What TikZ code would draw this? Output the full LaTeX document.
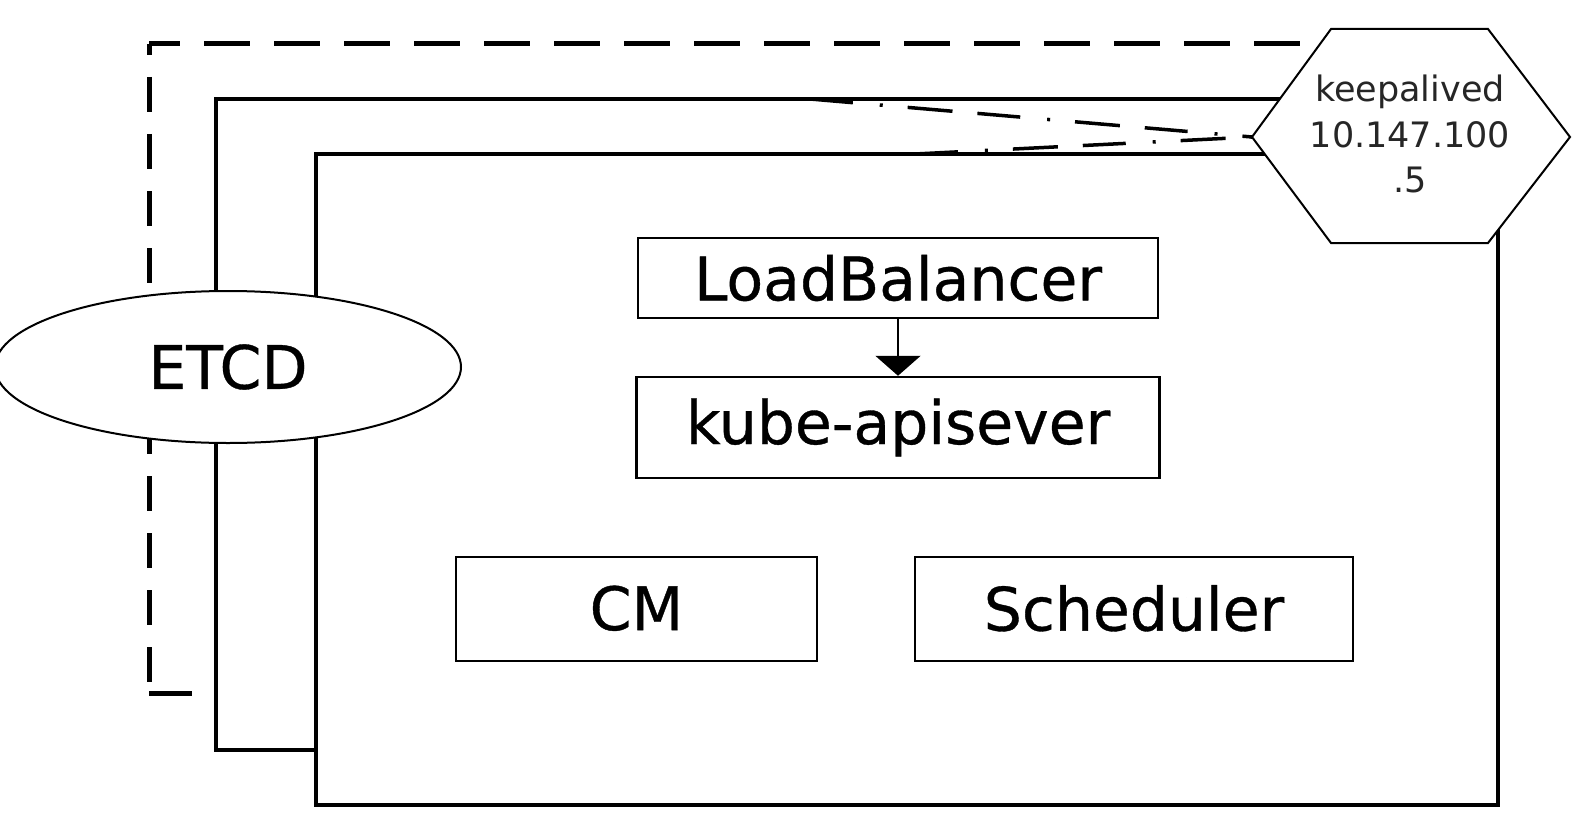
\documentclass[tikz,border=0pt]{standalone}
\usepackage{fontspec}
\setmainfont{DejaVu Sans}
\newfontfamily\boxfont[FakeBold=0.6]{DejaVu Sans}
\usetikzlibrary{shapes.geometric,arrows.meta}
\tikzset{
  frame/.style={line width=4.5pt, line join=miter},
  dashfrm/.style={line width=5pt},
  comp/.style={draw, line width=2.5pt, inner sep=0pt, font=\boxfont\fontsize{60}{72}\selectfont},
  ddot/.style={line width=3.5pt, dash pattern=on 43pt off 27pt on 3pt off 25pt on 45pt off 25pt},
  thinshape/.style={draw, fill=white, line width=2pt},
}
\begin{document}
\begin{tikzpicture}[x=1pt,y=-1pt]
\useasboundingbox (0,0) rectangle (1590,832);
% dashed outer frame
\draw[dashfrm, dash pattern=on 35pt off 22pt, dash phase=24pt] (149,44) -- (149,693);
\draw[dashfrm, dash pattern=on 46pt off 24pt, dash phase=15pt] (149,44) -- (1340,44);
\draw[dashfrm] (149,693) -- (192,693);
% middle frame
\draw[frame] (316,750) -- (216,750) -- (216,99) -- (1300,99);
% inner frame
\draw[frame] (316,154) rectangle (1498,805);
% coordinates
\coordinate (m1) at (810,99);
\coordinate (i1) at (915,154);
\coordinate (hL) at (1252,137);
\coordinate (hTL) at (1331,29);
\coordinate (hTR) at (1488,29);
\coordinate (hR) at (1570,137);
\coordinate (hBR) at (1488,243);
\coordinate (hBL) at (1331,243);
% dash-dot connectors
\draw[ddot] (m1) -- (hL);
\draw[ddot] (i1) -- (hL);
% hexagon
\filldraw[thinshape] (hL) -- (hTL) -- (hTR) -- (hR) -- (hBR) -- (hBL) -- cycle;
\node[align=center, text=black!85, font=\fontsize{35}{45.5}\selectfont, inner sep=0pt] (keep) at (1410,134) {keepalived\\10.147.100\\.5};
% ETCD
\node[ellipse, thinshape, minimum width=466pt, minimum height=152pt, inner sep=0pt, font=\boxfont\fontsize{60}{72}\selectfont] (etcd) at (228,367) {ETCD};
% components
\node[comp, minimum width=520pt, minimum height=80pt] (lb) at (898,278) {LoadBalancer};
\node[comp, minimum width=523pt, minimum height=101pt] (kube) at (898,427.5) {kube-apisever};
\node[comp, minimum width=361pt, minimum height=104pt, text depth=0.23em] (cm) at (636.5,609) {CM};
\node[comp, minimum width=438pt, minimum height=104pt, text depth=0.23em] (sched) at (1134,609) {Scheduler};
\draw[line width=2.5pt, -{Triangle[width=45pt,length=20pt]}] (lb.south) -- (kube.north);
\end{tikzpicture}
\end{document}
